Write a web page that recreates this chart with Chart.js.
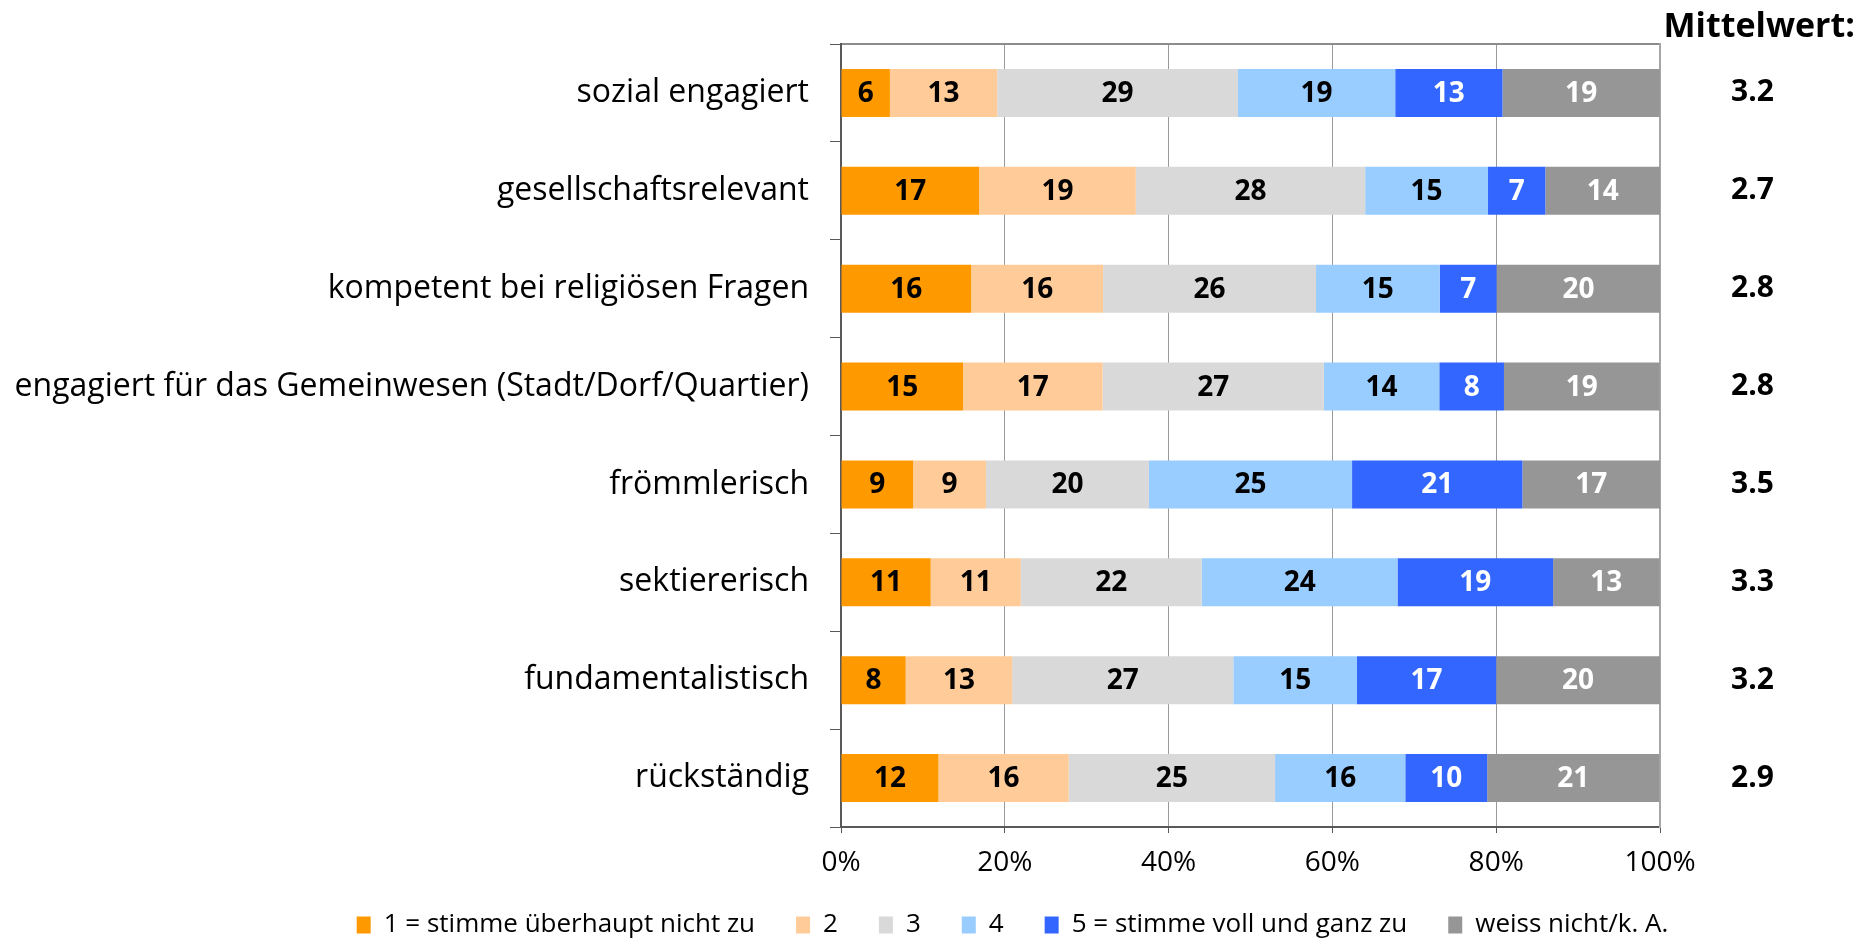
<!DOCTYPE html>
<html><head><meta charset="utf-8">
<script src="https://cdn.jsdelivr.net/npm/chart.js@4.4.1/dist/chart.umd.min.js"></script>
<style>html,body{margin:0;padding:0;background:#fff;overflow:hidden}</style>
</head><body>
<canvas id="c" width="1861" height="939"></canvas>
<script>
const categories = ['sozial engagiert','gesellschaftsrelevant','kompetent bei religiösen Fragen','engagiert für das Gemeinwesen (Stadt/Dorf/Quartier)','frömmlerisch','sektiererisch','fundamentalistisch','rückständig'];
const seriesNames = ['1 = stimme überhaupt nicht zu','2','3','4','5 = stimme voll und ganz zu','weiss nicht/k. A.'];
const s1 = [5.97, 16.85, 15.9, 14.9, 8.8, 10.95, 7.9, 11.9];
const s2 = [13.1, 19.15, 16.1, 17.05, 8.9, 11.0, 13.0, 15.9];
const s3 = [29.4, 28.0, 26.0, 27.0, 19.9, 22.1, 27.0, 25.2];
const s4 = [19.2, 15.0, 15.1, 14.1, 24.8, 23.9, 15.1, 15.9];
const s5 = [13.1, 7.0, 6.95, 7.9, 20.8, 19.0, 17.0, 10.0];
const s6 = [19.2, 14.0, 20.0, 19.0, 16.8, 13.0, 20.0, 21.0];
const means = ['3.2','2.7','2.8','2.8','3.5','3.3','3.2','2.9'];
const meanTitle = 'Mittelwert:';
const xTicks = [0,20,40,60,80,100];

const colors = ['#FF9900','#FFCC99','#D9D9D9','#99CCFF','#3366FF','#969696'];
const labelColors = ['#000','#000','#000','#000','#fff','#fff'];
const FONT = '"Open Sans", "DejaVu Sans", sans-serif';

const barLabels = {
  id: 'barLabels',
  afterDatasetsDraw(chart) {
    const ctx = chart.ctx;
    ctx.save();
    ctx.font = 'bold 28px ' + FONT;
    ctx.textAlign = 'center';
    ctx.textBaseline = 'middle';
    chart.data.datasets.forEach((ds, i) => {
      const meta = chart.getDatasetMeta(i);
      meta.data.forEach((el, j) => {
        const p = el.getCenterPoint();
        ctx.fillStyle = labelColors[i];
        ctx.fillText(String(Math.round(ds.data[j])), p.x, p.y + 1);
      });
    });
    ctx.restore();
  }
};

// shift the (full-width) legend so it is centred like the original
const legendShift = {
  id: 'legendShift',
  afterLayout(chart) {
    if (chart.legend) chart.legend.left = 170;
  }
};

function noPad(s) { s.paddingTop = 0; s.paddingBottom = 0; }

function build() {
  const series = [s1, s2, s3, s4, s5, s6];
  new Chart(document.getElementById('c'), {
    type: 'bar',
    data: {
      labels: categories,
      datasets: series.map((d, i) => ({
        label: seriesNames[i],
        data: d,
        backgroundColor: colors[i],
        borderWidth: 0,
        barPercentage: 0.49,
        categoryPercentage: 1.0,
        xAxisID: 'x',
        yAxisID: 'y'
      }))
    },
    options: {
      indexAxis: 'y',
      responsive: false,
      animation: false,
      devicePixelRatio: 1,
      layout: { padding: { left: 0, right: 6, top: 0, bottom: -9 } },
      plugins: {
        tooltip: { enabled: false },
        title: {
          display: true, text: meanTitle, align: 'end', color: '#000',
          font: { family: FONT, size: 34, weight: 'bold', lineHeight: 1.0 },
          padding: { top: 10, bottom: 0 }
        },
        legend: {
          position: 'bottom',
          labels: {
            boxWidth: 14, boxHeight: 17, padding: 41, color: '#000',
            font: { family: FONT, size: 26 }
          }
        }
      },
      scales: {
        x: {
          type: 'linear', stacked: true, min: 0, max: 100, position: 'bottom',
          afterBuildTicks: s => { s.ticks = xTicks.map(v => ({ value: v })); },
          ticks: { callback: v => v + '%', color: '#000', font: { family: FONT, size: 28 }, padding: 13, maxRotation: 0 },
          grid: { color: '#999999', lineWidth: 1, tickLength: 6, tickColor: '#595959' },
          border: { color: '#595959', width: 2 },
          afterFit: s => { s.height = 44; }
        },
        x2: {
          type: 'linear', min: 0, max: 100, position: 'top', display: true,
          grid: { display: false, drawTicks: false },
          ticks: { display: false },
          border: { display: true, color: '#8c8c8c', width: 2 },
          afterFit: s => { s.height = 0; s.paddingLeft = 0; s.paddingRight = 0; }
        },
        y: {
          type: 'category', stacked: true, position: 'left',
          grid: { drawOnChartArea: false, tickLength: 11, color: '#595959', offset: true },
          border: { color: '#595959', width: 2 },
          ticks: { color: '#000', font: { family: FONT, size: 32 }, padding: 21 },
          afterFit: s => { s.width = 841; noPad(s); }
        },
        y2: {
          type: 'category', labels: means, position: 'right', offset: true,
          grid: { display: false, drawTicks: false, offset: true },
          border: { display: true, color: '#a6a6a6', width: 2 },
          ticks: { color: '#000', font: { family: FONT, size: 30, weight: 'bold' }, padding: 71, crossAlign: 'near' },
          afterFit: s => { s.width = 195; noPad(s); }
        }
      }
    },
    plugins: [barLabels, legendShift]
  });
}
Promise.all([
  document.fonts.load('32px "Open Sans"'),
  document.fonts.load('bold 30px "Open Sans"')
]).then(build, build);
</script>
</body></html>
